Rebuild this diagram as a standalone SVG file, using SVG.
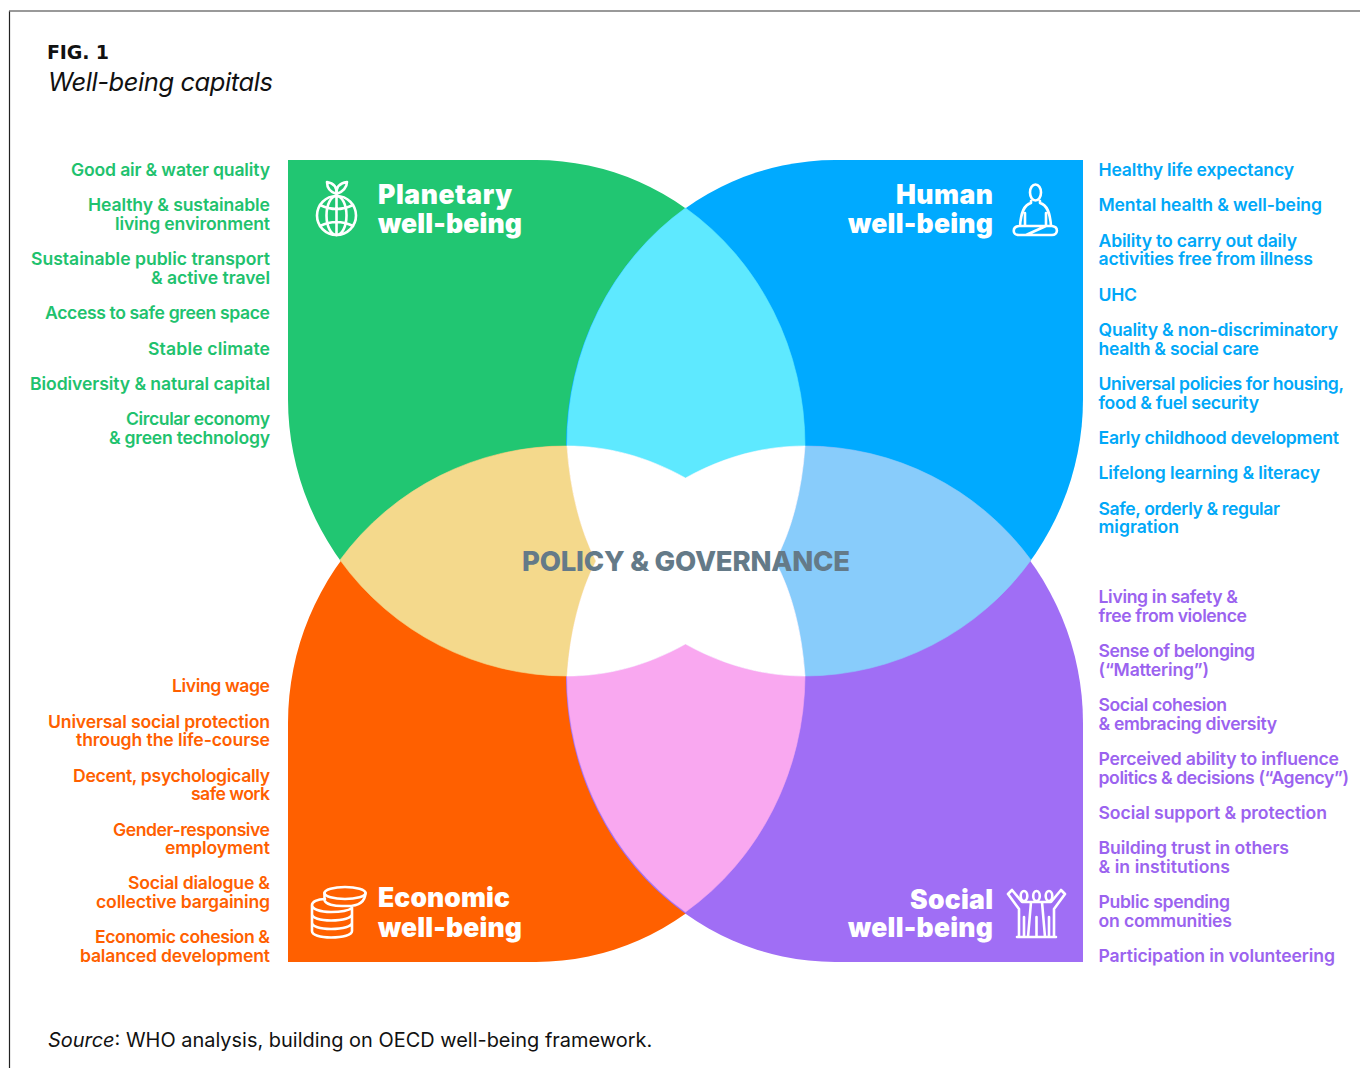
<svg xmlns="http://www.w3.org/2000/svg" width="1360" height="1068" viewBox="0 0 1360 1068">
<style>
text{font-family:"Inter","Liberation Sans",sans-serif}
.l{font-size:17.6px;font-weight:600}
.r{text-anchor:end}
.g{fill:#1FC26E}.b{fill:#00A8F8}.o{fill:#FF5F00}.p{fill:#9B63EF}
.h{font-size:26.500px;font-weight:900;fill:#fff}
.i{fill:none;stroke:#fff;stroke-width:2.6;stroke-linecap:round;stroke-linejoin:round}
</style>
<rect width="1360" height="1068" fill="#fff"/>
<g id="frame"><path d="M9.5,1068V11" stroke="#222" stroke-width="1.2" fill="none"/><path d="M9,11H1360" stroke="#777" stroke-width="1.4" fill="none"/></g>
<g id="title">
<text x="47" y="59" font-size="19" font-weight="700" fill="#111" textLength="62" style="font-family:'DejaVu Sans',sans-serif">FIG. 1</text>
<text x="48" y="91" font-size="25.500" font-style="italic" fill="#111" textLength="225">Well-being capitals</text>
</g>
<g id="planetary">
<path fill="#21C672" d="M288,160H536A269,286 0 0 1 805,446L685,561L567,676A279,277 0 0 1 288,399Z"/>
<text class="h" x="378" y="204" textLength="134">Planetary</text><text class="h" x="378" y="233" textLength="144">well-being</text>
<g class="i"><circle cx="336.500" cy="215.500" r="19.500"/><ellipse cx="336.500" cy="215.500" rx="10" ry="19.500"/><path d="M336.500,196V235M320,205Q336.500,213 353,205M320,226Q336.500,218 353,226M336.500,194C330,192 327,187 327,182C333,183 337,187 336.500,194C336,187 340,183 347,182C347,187 343,192 336.500,194Z"/></g>
</g>
<g id="human">
<path fill="#00AAFF" d="M1083,160H835A269,286 0 0 0 566,446L685,561L804,676A279,277 0 0 0 1083,399Z"/>
<text class="h r" x="993" y="204" textLength="97">Human</text><text class="h r" x="993" y="233" textLength="145">well-being</text>
<g class="i"><ellipse cx="1035.500" cy="192.500" rx="5.500" ry="8"/><path d="M1031,201V203C1024,205 1021,212 1020,226M1040,201V203C1047,205 1050,212 1051,226M1025,213V226M1046,213V226M1019,226H1052C1059,227 1058,235 1052,235H1019C1012,235 1012,227 1019,226ZM1026,235L1046,226"/></g>
</g>
<g id="economic">
<path fill="#FF6000" d="M288,962H536A269,286 0 0 0 805,676L685,561L567,446A279,277 0 0 0 288,723Z"/>
<text class="h" x="378" y="907" textLength="132">Economic</text><text class="h" x="378" y="937" textLength="144">well-being</text>
<g class="i"><ellipse cx="345" cy="893" rx="20.500" ry="6"/><path d="M324.500,893V900C325,904 334,906.500 345,906C356,906.500 365,904 365.500,893M325,899C317,899 312,902 312,905C312,909 320,912 331,912C340,912 348,911 352,908M312,905V931C312,935 320,937.500 331,937.500C343,937.500 352,935 352,931V906M312,914C312,918 320,920.500 331,920.500C343,920.500 352,918 352,914M312,922.500C312,926.500 320,929 331,929C343,929 352,926.500 352,922.500"/></g>
</g>
<g id="social">
<path fill="#A06EF5" d="M1083,962H835A269,286 0 0 1 566,676L685,561L804,446A279,277 0 0 1 1083,723Z"/>
<text class="h r" x="993" y="909" textLength="83">Social</text><text class="h r" x="993" y="937" textLength="145">well-being</text>
<g class="i"><ellipse cx="1024" cy="896" rx="3.300" ry="5"/><ellipse cx="1036.500" cy="896" rx="3.300" ry="5"/><ellipse cx="1049" cy="896" rx="3.300" ry="5"/><path d="M1008,894L1012,890L1022,902H1051L1061,890L1065,894L1054,909V937M1008,894L1019,909V937M1031,902L1028,937M1042,902L1045,937M1024,917V937M1036.500,917V937M1049,917V937M1017,937H1056"/></g>
</g>
<g id="overlaps" stroke-width=".6">
<path id="overlap-top" fill="#5EE9FF" stroke="#5EE9FF" d="M685.500,208A269,286 0 0 1 805,446C765,446 725,456 685.500,478C646,456 607,446 567,446A269,286 0 0 1 685.500,208Z"/>
<path id="overlap-left" fill="#F4D98C" stroke="#F4D98C" d="M340,560A279,277 0 0 1 567,446C570,490 580,530 596,561C580,592 570,632 567,676A279,277 0 0 1 340,560Z"/>
<path id="overlap-right" fill="#88CCFB" stroke="#88CCFB" d="M1031,560A279,277 0 0 0 805,446C802,490 792,530 775,561C792,592 802,632 805,676A279,277 0 0 0 1031,560Z"/>
<path id="overlap-bottom" fill="#F9A8F0" stroke="#F9A8F0" d="M685.500,912A269,286 0 0 0 805,676C765,676 725,666 685.500,644C646,666 607,676 567,676A269,286 0 0 0 685.500,912Z"/>
<path id="center" fill="#fff" stroke="#fff" d="M567,446C607,446 646,456 685.500,478C725,456 765,446 805,446C802,490 792,530 775,561C792,592 802,632 805,676C765,676 725,666 685.500,644C646,666 607,676 567,676C570,632 580,592 596,561C580,530 570,490 567,446Z"/>
</g>
<g id="policy"><text x="522" y="571" font-size="27.500" font-weight="800" fill="#647A88" textLength="328">POLICY &amp; GOVERNANCE</text></g>
<g id="planetary-list" class="l g r">
<text x="270" y="176" textLength="199">Good air &amp; water quality</text>
<text x="270" y="211" textLength="182">Healthy &amp; sustainable</text><text x="270" y="230" textLength="155">living environment</text>
<text x="270" y="265" textLength="239">Sustainable public transport</text><text x="270" y="284" textLength="119">&amp; active travel</text>
<text x="270" y="319" textLength="225">Access to safe green space</text>
<text x="270" y="355" textLength="122">Stable climate</text>
<text x="270" y="390" textLength="240">Biodiversity &amp; natural capital</text>
<text x="270" y="425" textLength="144">Circular economy</text><text x="270" y="444" textLength="161">&amp; green technology</text>
</g>
<g id="human-list" class="l b">
<text x="1098.500" y="176" textLength="195.500">Healthy life expectancy</text>
<text x="1098.500" y="211" textLength="223.500">Mental health &amp; well-being</text>
<text x="1098.500" y="247" textLength="198.500">Ability to carry out daily</text><text x="1098.500" y="265" textLength="214.500">activities free from illness</text>
<text x="1098.500" y="301" textLength="38.500">UHC</text>
<text x="1098.500" y="336" textLength="239.500">Quality &amp; non-discriminatory</text><text x="1098.500" y="355" textLength="160.500">health &amp; social care</text>
<text x="1098.500" y="390" textLength="245.500">Universal policies for housing,</text><text x="1098.500" y="409" textLength="160.500">food &amp; fuel security</text>
<text x="1098.500" y="444" textLength="240.500">Early childhood development</text>
<text x="1098.500" y="479" textLength="221.500">Lifelong learning &amp; literacy</text>
<text x="1098.500" y="515" textLength="181.500">Safe, orderly &amp; regular</text><text x="1098.500" y="533" textLength="80.500">migration</text>
</g>
<g id="social-list" class="l p">
<text x="1098.500" y="603" textLength="139.500">Living in safety &amp;</text><text x="1098.500" y="622" textLength="148.500">free from violence</text>
<text x="1098.500" y="657" textLength="156.500">Sense of belonging</text><text x="1098.500" y="676" textLength="110.500">(“Mattering”)</text>
<text x="1098.500" y="711" textLength="128.500">Social cohesion</text><text x="1098.500" y="730" textLength="178.500">&amp; embracing diversity</text>
<text x="1098.500" y="765" textLength="240.500">Perceived ability to influence</text><text x="1098.500" y="784" textLength="250.500">politics &amp; decisions (“Agency”)</text>
<text x="1098.500" y="819" textLength="228.500">Social support &amp; protection</text>
<text x="1098.500" y="854" textLength="190.500">Building trust in others</text><text x="1098.500" y="873" textLength="131.500">&amp; in institutions</text>
<text x="1098.500" y="908" textLength="131.500">Public spending</text><text x="1098.500" y="927" textLength="133.500">on communities</text>
<text x="1098.500" y="962" textLength="236.500">Participation in volunteering</text>
</g>
<g id="economic-list" class="l o r">
<text x="270" y="692" textLength="98">Living wage</text>
<text x="270" y="728" textLength="222">Universal social protection</text><text x="270" y="746" textLength="194">through the life-course</text>
<text x="270" y="782" textLength="197">Decent, psychologically</text><text x="270" y="800" textLength="79">safe work</text>
<text x="270" y="836" textLength="157">Gender-responsive</text><text x="270" y="854" textLength="105">employment</text>
<text x="270" y="889" textLength="142">Social dialogue &amp;</text><text x="270" y="908" textLength="174">collective bargaining</text>
<text x="270" y="943" textLength="175">Economic cohesion &amp;</text><text x="270" y="962" textLength="190">balanced development</text>
</g>
<g id="source"><text x="48" y="1047" font-size="19.940" fill="#111"><tspan font-style="italic">Source</tspan>: WHO analysis, building on OECD well-being framework.</text></g>
</svg>
